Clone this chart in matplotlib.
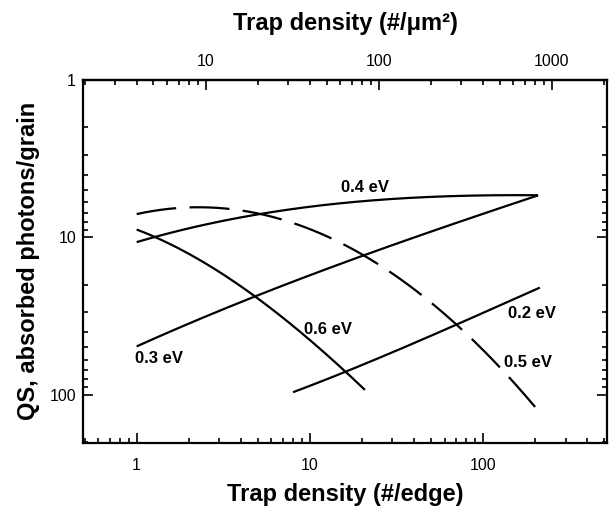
import numpy as np
import matplotlib
matplotlib.use('Agg')
import matplotlib.pyplot as plt
from matplotlib.ticker import LogLocator, NullFormatter

plt.rcParams['font.family'] = ['Liberation Sans', 'DejaVu Sans']

# trap density (#/edge) and QS (absorbed photons/grain)
x_02 = [8.0, 16.3, 68.8, 213]
y_02 = [96.7, 71.2, 36.3, 20.9]

x_03 = [1.0, 4.92, 13.1, 21.3, 54.2, 208]
y_03 = [49.3, 24.0, 15.1, 13.0, 9.0, 5.40]

x_04 = [1.0, 1.27, 5.37, 13.0, 33.1, 67.4, 208]
y_04 = [10.7, 10.0, 7.07, 6.16, 5.67, 5.48, 5.40]

x_05 = [1.0, 2.31, 5.14, 10.0, 13.0, 18.6, 34.6, 64.5, 117, 200]
y_05 = [7.14, 6.41, 7.07, 9.0, 9.95, 12.4, 18.8, 33.0, 62.3, 120]

x_06 = [1.0, 1.27, 2.31, 4.92, 9.15, 16.3, 20.8]
y_06 = [8.9, 10.0, 13.9, 24.0, 42.1, 71.2, 94.4]

labels = ['0.2 eV', '0.3 eV', '0.4 eV', '0.5 eV', '0.6 eV']
label_x = [193, 1.34, 20.8, 182, 12.7]
label_y = [30.6, 58.6, 4.80, 62.3, 38.5]

edge_ticks = [1, 10, 100]
area_ticks = [10, 100, 1000]
qs_ticks = [1, 10, 100]
per_area = 4.0  # #/um^2 per #/edge


def smooth(x, y, n=200):
    lx, ly = np.log10(x), np.log10(y)
    deg = min(3, len(x) - 1)
    p = np.polyfit(lx, ly, deg)
    t = np.linspace(lx[0], lx[-1], n)
    return 10**t, 10**np.polyval(p, t)


fig = plt.figure(figsize=(6.09, 5.11), dpi=100)
ax = fig.add_axes([0.1363, 0.134, 0.8604, 0.7094])

lw = 1.6
for x, y in [(x_02, y_02), (x_03, y_03), (x_04, y_04), (x_06, y_06)]:
    xs, ys = smooth(x, y)
    ax.plot(xs, ys, color='black', lw=lw, solid_capstyle='butt')
xs, ys = smooth(x_05, y_05)
ax.plot(xs, ys, color='black', lw=lw, dashes=(18, 6))

for txt, lx, ly in zip(labels, label_x, label_y):
    ax.text(lx, ly, txt, ha='center', va='center', fontsize=12, fontweight='bold')

ax.set_xscale('log')
ax.set_yscale('log')
ax.set_xlim(0.49, 520)
ax.set_ylim(202, 1)

ax.set_xticks(edge_ticks)
ax.set_xticklabels([str(t) for t in edge_ticks])
ax.set_yticks(qs_ticks)
ax.set_yticklabels([str(t) for t in qs_ticks])
ax.xaxis.set_minor_locator(LogLocator(subs=np.arange(2, 10)))
ax.yaxis.set_minor_locator(LogLocator(subs=np.arange(2, 10)))
ax.xaxis.set_minor_formatter(NullFormatter())
ax.yaxis.set_minor_formatter(NullFormatter())
ax.tick_params(which='both', direction='in', width=1.2, labelsize=11.5,
               top=False, right=True, bottom=True, left=True)
ax.tick_params(which='major', length=7)
ax.tick_params(which='minor', length=3.5)
ax.tick_params(axis='x', which='major', pad=11)
ax.tick_params(axis='y', which='major', pad=5)

top = ax.secondary_xaxis('top', functions=(lambda v: v * per_area, lambda v: v / per_area))
top.set_xticks(area_ticks)
top.set_xticklabels([str(t) for t in area_ticks])
top.xaxis.set_minor_locator(LogLocator(subs=np.arange(2, 10)))
top.xaxis.set_minor_formatter(NullFormatter())
top.tick_params(which='both', direction='in', width=1.2, labelsize=11.5)
top.tick_params(which='major', length=7, pad=8)
top.tick_params(which='minor', length=3.5)
top.set_xlabel('Trap density (#/μm²)', fontsize=17, fontweight='bold', labelpad=17)

for s in ax.spines.values():
    s.set_linewidth(1.6)
top.spines['top'].set_linewidth(1.6)

ax.set_xlabel('Trap density (#/edge)', fontsize=17, fontweight='bold', labelpad=7)
ax.set_ylabel('QS, absorbed photons/grain', fontsize=17, fontweight='bold', labelpad=7)

fig.savefig('out.png', dpi=100)
